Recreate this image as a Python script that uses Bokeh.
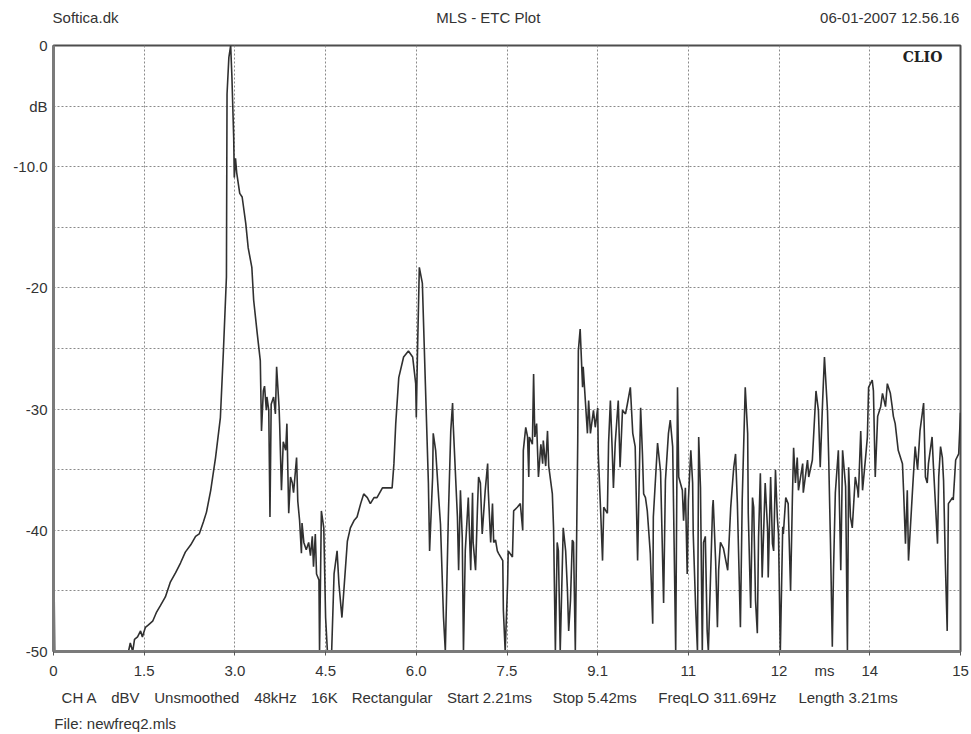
from bokeh.plotting import figure
from bokeh.models import Range1d, FixedTicker, Label, LinearAxis
from bokeh.embed import file_html
from bokeh.resources import INLINE

# ---------------- data ----------------
time_ms = [
    0.00, 0.02, 1.24, 1.27, 1.31, 1.34, 1.39, 1.44, 1.47, 1.52,
    1.57, 1.64, 1.70, 1.77, 1.85, 1.93, 2.02, 2.10, 2.18, 2.27,
    2.35, 2.41, 2.48, 2.53, 2.60, 2.68, 2.76, 2.81, 2.86, 2.87,
    2.90, 2.93, 2.95, 2.98, 2.99, 3.01, 3.03, 3.08, 3.12, 3.18,
    3.22, 3.28, 3.31, 3.37, 3.42, 3.44, 3.47, 3.49, 3.52, 3.53,
    3.56, 3.58, 3.60, 3.64, 3.67, 3.69, 3.73, 3.74, 3.77, 3.80,
    3.84, 3.86, 3.89, 3.92, 3.95, 3.97, 4.02, 4.04, 4.07, 4.10,
    4.11, 4.14, 4.18, 4.22, 4.25, 4.28, 4.30, 4.33, 4.35, 4.39,
    4.40, 4.43, 4.47, 4.50, 4.53, 4.60, 4.64, 4.69, 4.72, 4.77,
    4.81, 4.86, 4.91, 4.97, 5.02, 5.08, 5.13, 5.19, 5.24, 5.30,
    5.35, 5.44, 5.52, 5.60, 5.63, 5.66, 5.71, 5.79, 5.87, 5.94,
    5.99, 6.00, 6.02, 6.05, 6.10, 6.15, 6.20, 6.22, 6.27, 6.28,
    6.32, 6.37, 6.40, 6.45, 6.48, 6.53, 6.57, 6.60, 6.61, 6.68,
    6.70, 6.73, 6.76, 6.78, 6.81, 6.86, 6.90, 6.93, 6.94, 6.98,
    7.01, 7.03, 7.06, 7.09, 7.14, 7.18, 7.19, 7.23, 7.26, 7.28,
    7.31, 7.34, 7.36, 7.43, 7.44, 7.47, 7.51, 7.52, 7.59, 7.61,
    7.67, 7.72, 7.76, 7.77, 7.81, 7.84, 7.86, 7.87, 7.92, 7.94,
    7.96, 7.99, 8.02, 8.06, 8.09, 8.10, 8.14, 8.17, 8.19, 8.25,
    8.27, 8.30, 8.33, 8.35, 8.38, 8.43, 8.47, 8.50, 8.52, 8.55,
    8.58, 8.60, 8.63, 8.67, 8.68, 8.71, 8.75, 8.76, 8.83, 8.85,
    8.88, 8.93, 8.96, 9.00, 9.01, 9.05, 9.08, 9.10, 9.16, 9.18,
    9.21, 9.24, 9.26, 9.29, 9.34, 9.37, 9.41, 9.46, 9.49, 9.54,
    9.58, 9.62, 9.66, 9.71, 9.74, 9.76, 9.79, 9.82, 9.87, 9.91,
    9.92, 9.99, 10.04, 10.09, 10.12, 10.17, 10.20, 10.24, 10.29, 10.32,
    10.34, 10.40, 10.42, 10.45, 10.48, 10.50, 10.54, 10.57, 10.58, 10.62,
    10.65, 10.67, 10.70, 10.73, 10.75, 10.78, 10.81, 10.83, 10.90, 10.91,
    10.95, 10.98, 11.00, 11.03, 11.08, 11.15, 11.20, 11.23, 11.25, 11.28,
    11.31, 11.36, 11.39, 11.44, 11.48, 11.49, 11.53, 11.56, 11.58, 11.61,
    11.64, 11.66, 11.69, 11.72, 11.77, 11.81, 11.82, 11.86, 11.89, 11.91,
    11.94, 11.97, 11.99, 12.02, 12.06, 12.07, 12.11, 12.15, 12.19, 12.22,
    12.24, 12.27, 12.30, 12.32, 12.39, 12.40, 12.47, 12.49, 12.55, 12.61,
    12.65, 12.68, 12.72, 12.75, 12.80, 12.82, 12.85, 12.88, 12.90, 12.93,
    12.98, 13.02, 13.05, 13.10, 13.13, 13.15, 13.18, 13.21, 13.26, 13.30,
    13.31, 13.35, 13.38, 13.43, 13.46, 13.48, 13.54, 13.56, 13.59, 13.63,
    13.68, 13.71, 13.76, 13.79, 13.84, 13.87, 13.89, 13.92, 13.97, 14.04,
    14.06, 14.09, 14.12, 14.14, 14.21, 14.25, 14.29, 14.33, 14.39, 14.42,
    14.45, 14.47, 14.53, 14.55, 14.62, 14.64, 14.67, 14.70, 14.72, 14.75,
    14.78, 14.80, 14.87, 14.88, 14.92, 14.97, 15.00,
]

level_db = [
    -39.5, -50, -50, -49.3, -50, -49.0, -48.8, -48.3, -48.8, -48.0,
    -47.8, -47.5, -46.8, -46.2, -45.5, -44.3, -43.5, -42.7, -41.8, -41.2,
    -40.5, -40.3, -39.3, -38.5, -36.7, -34.0, -30.7, -25.2, -19.1, -4.0,
    -1.0, 0.0, -2.5, -7.6, -10.9, -9.3, -10.5, -12.2, -12.5, -14.7,
    -16.7, -18.3, -21.0, -23.8, -26.0, -31.8, -28.5, -28.1, -30.1, -29.0,
    -30.1, -38.9, -29.6, -29.0, -30.4, -26.5, -29.8, -31.2, -36.7, -32.7,
    -33.4, -31.2, -38.6, -35.6, -36.1, -36.9, -34.0, -37.6, -39.2, -41.9,
    -39.4, -41.0, -41.6, -41.0, -42.1, -40.5, -43.0, -40.3, -43.6, -44.1,
    -50, -38.4, -39.8, -47.2, -50, -50, -43.6, -41.7, -44.4, -47.2,
    -44.4, -40.9, -39.8, -39.2, -38.9, -37.8, -37.0, -37.3, -37.8, -37.3,
    -37.3, -36.5, -36.5, -36.5, -34.5, -31.2, -27.4, -25.7, -25.2, -25.7,
    -27.9, -30.7, -25.2, -18.3, -19.6, -27.9, -36.1, -41.7, -35.6, -32.0,
    -33.4, -37.3, -39.5, -47.2, -50, -38.9, -31.8, -29.5, -31.2, -38.9,
    -43.3, -36.7, -40.6, -50, -41.7, -37.3, -43.3, -36.9, -41.0, -43.3,
    -38.4, -35.6, -36.1, -40.3, -36.7, -34.5, -36.7, -41.0, -37.8, -41.0,
    -40.8, -41.7, -41.9, -42.5, -46.6, -50, -44.4, -41.7, -42.2, -38.4,
    -38.1, -37.8, -40.0, -33.4, -31.5, -32.3, -35.6, -32.3, -32.9, -27.1,
    -32.3, -31.2, -35.6, -32.9, -34.5, -32.6, -34.7, -31.8, -34.7, -37.0,
    -39.8, -50, -41.0, -41.7, -50, -39.8, -41.7, -45.0, -48.3, -45.8,
    -40.8, -41.0, -50, -32.6, -25.2, -23.4, -28.2, -26.5, -32.0, -29.3,
    -32.0, -30.1, -31.5, -29.9, -33.7, -38.6, -42.5, -38.1, -38.6, -32.8,
    -29.3, -33.4, -36.5, -32.8, -29.3, -34.8, -30.1, -30.4, -29.6, -28.2,
    -32.0, -33.1, -42.5, -29.9, -33.7, -37.0, -37.3, -38.4, -41.9, -47.7,
    -38.9, -32.8, -35.2, -46.0, -35.9, -32.0, -30.9, -33.1, -50, -28.2,
    -35.6, -36.7, -39.2, -36.5, -43.6, -37.5, -33.4, -36.1, -40.3, -46.4,
    -50, -32.3, -36.5, -50, -41.0, -40.5, -48.3, -50, -38.1, -37.5,
    -42.5, -48.0, -43.3, -41.0, -41.5, -43.3, -38.1, -36.1, -34.8, -33.7,
    -37.8, -48.0, -37.5, -28.2, -32.0, -38.6, -46.4, -37.3, -38.1, -45.8,
    -48.5, -40.6, -35.3, -43.9, -36.1, -40.0, -43.9, -35.6, -41.1, -41.7,
    -35.0, -38.9, -40.3, -50, -39.7, -40.3, -37.3, -37.8, -45.0, -37.3,
    -33.2, -36.1, -34.0, -36.7, -34.5, -36.9, -34.2, -35.6, -34.2, -28.5,
    -30.1, -34.8, -29.3, -25.7, -30.1, -34.0, -41.1, -49.6, -43.3, -36.9,
    -33.4, -43.3, -33.4, -36.4, -50, -34.8, -38.9, -39.8, -35.6, -36.7,
    -37.3, -31.8, -36.7, -34.0, -32.3, -28.2, -27.6, -28.5, -35.6, -30.6,
    -29.8, -28.7, -29.8, -27.9, -28.7, -29.8, -30.6, -31.2, -33.4, -34.5,
    -36.9, -41.1, -36.7, -42.5, -36.4, -33.1, -35.0, -31.8, -29.5, -35.6,
    -36.1, -34.5, -32.3, -34.5, -41.1, -35.6, -33.1, -34.0, -35.9, -42.8,
    -48.3, -37.8, -37.3, -37.5, -34.2, -33.7, -30.3,
]
assert len(time_ms) == len(level_db)

grid_ms = [0, 1.5, 3.0, 4.5, 6.0, 7.5, 9.0, 10.5, 12.0, 13.5, 15.0]
x_ticks = [0, 1.5, 3.0, 4.5, 6.0, 7.5, 9.0, 10.5, 12.0, 12.75, 13.5, 15.0]
x_tick_labels = ["0", "1.5", "3.0", "4.5", "6.0", "7.5", "9.1", "11", "12", "ms", "14", "15"]
y_ticks = [0, -5, -10, -15, -20, -25, -30, -35, -40, -45, -50]
y_tick_labels = ["0", "dB", "-10.0", "", "-20", "", "-30", "", "-40", "", "-50"]

header_texts = ["Softica.dk", "MLS - ETC Plot", "06-01-2007 12.56.16"]
header_ms = [0.53, 7.19, 13.83]
footer_fields = ["CH A", "dBV", "Unsmoothed", "48kHz", "16K", "Rectangular",
                 "Start 2.21ms", "Stop 5.42ms", "FreqLO 311.69Hz", "Length 3.21ms"]
footer_ms = [0.43, 1.19, 2.37, 3.67, 4.48, 5.60, 7.21, 8.95, 10.98, 13.14]
file_texts = ["File: newfreq2.mls"]
file_ms = [1.02]
brand = "CLIO"

# ---------------- figure ----------------
FONT = "Liberation Sans"
TXT = "#333333"

p = figure(width=971, height=734, output_backend="svg", toolbar_location=None,
           x_range=Range1d(0, 15), y_range=Range1d(-50, 0),
           min_border_left=53, min_border_right=11, min_border_top=45,
           min_border_bottom=83)
p.background_fill_color = "white"
p.border_fill_color = "white"
p.outline_line_color = "#4d4d4d"
p.outline_line_width = 2

# main x axis: labels (incl. "ms") at major ticks, small tick marks as minor ticks on the grid
p.xaxis.ticker = FixedTicker(ticks=x_ticks, minor_ticks=grid_ms)
p.xaxis.major_label_overrides = {t: l for t, l in zip(x_ticks, x_tick_labels)}
p.xaxis.major_tick_out = 0
p.xaxis.major_tick_in = 0
p.xaxis.minor_tick_out = 4
p.xaxis.minor_tick_in = 0
p.xaxis.minor_tick_line_color = "#555555"

p.yaxis.ticker = FixedTicker(ticks=y_ticks)
p.yaxis.major_label_overrides = {t: l for t, l in zip(y_ticks, y_tick_labels)}
p.yaxis.major_tick_out = 0
p.yaxis.major_tick_in = 0
p.yaxis.minor_tick_line_color = None

for ax in (p.xaxis[0], p.yaxis[0]):
    ax.axis_line_color = "#7a7a7a"
    ax.axis_line_width = 3
    ax.major_label_text_font = FONT
    ax.major_label_text_font_size = "15px"
    ax.major_label_text_color = TXT
    ax.major_label_standoff = 6
p.xaxis.major_label_standoff = 6

p.xgrid.ticker = FixedTicker(ticks=grid_ms)
p.ygrid.ticker = FixedTicker(ticks=y_ticks)
p.grid.grid_line_color = "#8a8a8a"
p.grid.grid_line_dash = "2 2"
p.grid.grid_line_width = 1

p.line(time_ms, level_db, line_color="#303030", line_width=1.6)


def text_row(ticks, labels, place, standoff):
    ax = LinearAxis(ticker=FixedTicker(ticks=ticks, minor_ticks=[]),
                    major_label_overrides={t: l for t, l in zip(ticks, labels)},
                    axis_line_color=None, major_tick_line_color=None,
                    minor_tick_line_color=None, major_tick_in=0, major_tick_out=0,
                    major_label_standoff=standoff, major_label_text_font=FONT,
                    major_label_text_font_size="15px", major_label_text_color=TXT)
    p.add_layout(ax, place)


text_row(header_ms, header_texts, "above", 20)
text_row(footer_ms, footer_fields, "below", 7)
text_row(file_ms, file_texts, "below", 6)

p.add_layout(Label(x=14.70, y=-0.91, text=brand, text_align="right", text_baseline="middle",
                   text_font="DejaVu Serif", text_font_size="14px", text_font_style="bold",
                   text_color="#222222"))

open("out.html", "w").write(file_html(p, INLINE))
